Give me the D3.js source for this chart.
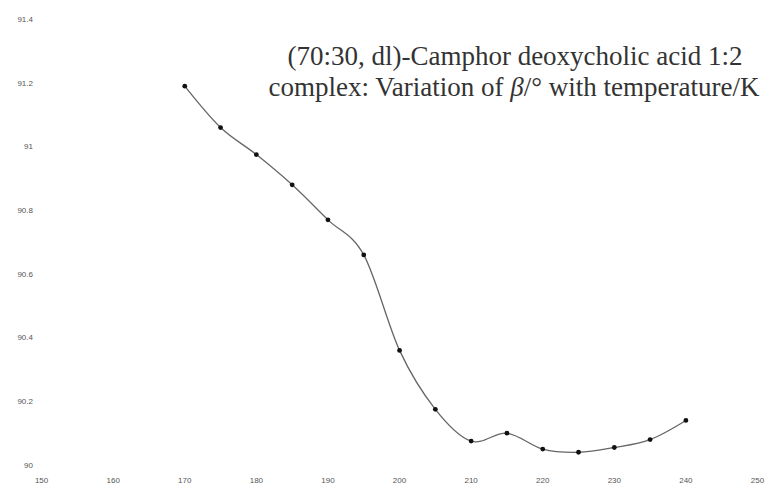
<!DOCTYPE html>
<html>
<head>
<meta charset="utf-8">
<script src="https://cdn.jsdelivr.net/npm/d3@7"></script>
<style>
  body { margin: 0; background: #fff; }
  svg { display: block; }
  .title { font-family: "Liberation Serif", "Times New Roman", Times, serif; }
</style>
</head>
<body>
<div id="chart"></div>
<script>
// temperature / K
const temps = [170, 175, 180, 185, 190, 195, 200, 205, 210, 215, 220, 225, 230, 235, 240]
// beta / degrees
const beta = [91.19, 91.06, 90.975, 90.88, 90.77, 90.66, 90.36, 90.175, 90.075, 90.1, 90.05, 90.04, 90.055, 90.08, 90.14]

const xTicks = [150, 160, 170, 180, 190, 200, 210, 220, 230, 240, 250]
const yTicks = [90, 90.2, 90.4, 90.6, 90.8, 91, 91.2, 91.4]

const width = 768
const height = 487

const xScale = d3.scaleLinear()
  .domain([150, 250])
  .range([41.6, 757.5])

const yScale = d3.scaleLinear()
  .domain([90, 91.4])
  .range([465, 19.3])

const svg = d3.select('#chart')
  .append('svg')
  .attr('width', width)
  .attr('height', height)

// y tick labels (no axis line)
svg.append('g')
  .attr('class', 'y-axis')
  .selectAll('text')
  .data(yTicks)
  .join('text')
  .attr('x', 33)
  .attr('y', d => yScale(d))
  .attr('dy', '0.35em')
  .attr('text-anchor', 'end')
  .attr('font-family', 'Liberation Sans, Arial, sans-serif')
  .attr('font-size', '8px')
  .attr('fill', '#555')
  .text(d => d3.format('~g')(d))

// x tick labels
svg.append('g')
  .attr('class', 'x-axis')
  .selectAll('text')
  .data(xTicks)
  .join('text')
  .attr('x', d => xScale(d))
  .attr('y', 480)
  .attr('dy', '0.35em')
  .attr('text-anchor', 'middle')
  .attr('font-family', 'Liberation Sans, Arial, sans-serif')
  .attr('font-size', '8px')
  .attr('fill', '#555')
  .text(d => d)

const points = temps.map((t, i) => ({ t: t, b: beta[i] }))

const line = d3.line()
  .x(d => xScale(d.t))
  .y(d => yScale(d.b))
  .curve(d3.curveCatmullRom.alpha(0))

svg.append('path')
  .datum(points)
  .attr('d', line)
  .attr('fill', 'none')
  .attr('stroke', '#666')
  .attr('stroke-width', 1.3)

svg.append('g')
  .attr('class', 'markers')
  .selectAll('circle')
  .data(points)
  .join('circle')
  .attr('cx', d => xScale(d.t))
  .attr('cy', d => yScale(d.b))
  .attr('r', 2.4)
  .attr('fill', '#111')

// title
const title = svg.append('text')
  .attr('class', 'title')
  .attr('text-anchor', 'middle')
  .attr('font-size', '27px')
  .attr('fill', '#333')

title.append('tspan')
  .attr('x', 515)
  .attr('y', 65)
  .text('(70:30, dl)-Camphor deoxycholic acid 1:2')

const line2 = title.append('tspan')
  .attr('x', 514)
  .attr('y', 96)
line2.append('tspan').text('complex: Variation of ')
line2.append('tspan').attr('font-style', 'italic').text('β')
line2.append('tspan').text('/° with temperature/K')
</script>
</body>
</html>
